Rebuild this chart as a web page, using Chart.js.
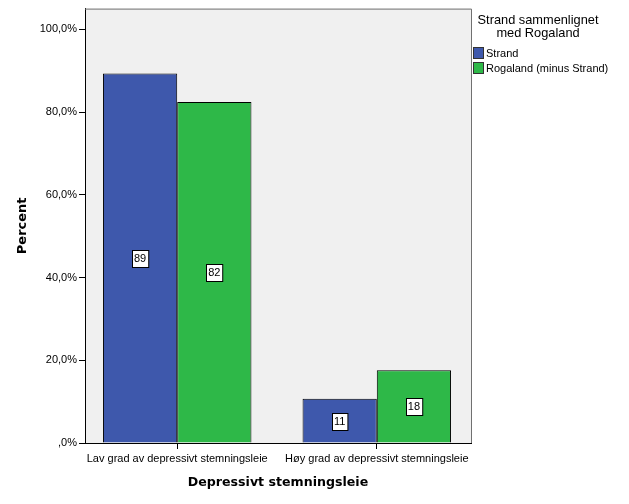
<!DOCTYPE html>
<html>
<head>
<meta charset="utf-8">
<script src="https://cdn.jsdelivr.net/npm/chart.js@4"></script>
<style>
  html, body { margin: 0; padding: 0; background: #fff; }
  #wrap { width: 629px; height: 504px; }
</style>
</head>
<body>
<div id="wrap"><canvas id="chart" width="629" height="504"></canvas></div>
<script>
// kategorier og verdier (prosent)
const categories = ["Lav grad av depressivt stemningsleie", "Høy grad av depressivt stemningsleie"];
const strandValues = [89.3, 10.7];
const rogalandValues = [82.4, 17.6];
const seriesLabels = ["Strand", "Rogaland (minus Strand)"];
const yTicks = [0, 20, 40, 60, 80, 100];
const legendTitle = ["Strand sammenlignet", "med Rogaland"];

const blue = "#3E58AC";
const green = "#2EB848";

// grå bakgrunn i plottet + ramme
const plotBg = {
    id: "plotBg",
    beforeDraw(chart) {
        const { ctx, chartArea: a } = chart;
        ctx.save();
        ctx.fillStyle = "#F0F0F0";
        ctx.fillRect(a.left, a.top, a.right - a.left, a.bottom - a.top);
        ctx.restore();
    },
    afterDraw(chart) {
        const { ctx, chartArea: a } = chart;
        ctx.save();
        ctx.strokeStyle = "#707070";
        ctx.lineWidth = 1;
        ctx.beginPath();
        ctx.moveTo(a.left, a.top + 0.5);
        ctx.lineTo(a.right + 0.5, a.top + 0.5);
        ctx.lineTo(a.right + 0.5, a.bottom);
        ctx.stroke();
        ctx.restore();
    }
};

// verdietiketter midt i stolpene
const barLabels = {
    id: "barLabels",
    afterDatasetsDraw(chart) {
        const ctx = chart.ctx;
        ctx.save();
        ctx.font = "11px 'Liberation Sans', Arial, sans-serif";
        ctx.textAlign = "center";
        ctx.textBaseline = "middle";
        chart.data.datasets.forEach((ds, di) => {
            chart.getDatasetMeta(di).data.forEach((bar, i) => {
                const txt = String(Math.round(ds.data[i].y));
                const cy = Math.round((bar.y + bar.base) / 2);
                const w = ctx.measureText(txt).width + 4;
                const h = 17;
                const x0 = Math.round(bar.x - w / 2) + 0.5;
                const y0 = Math.round(cy - h / 2) + 0.5;
                ctx.fillStyle = "#fff";
                ctx.fillRect(x0, y0, w, h);
                ctx.strokeStyle = "#000";
                ctx.lineWidth = 1;
                ctx.strokeRect(x0, y0, w, h);
                ctx.fillStyle = "#000";
                ctx.fillText(txt, bar.x, cy + 1);
            });
        });
        ctx.restore();
    }
};

// forklaring til høyre
const sideLegend = {
    id: "sideLegend",
    afterDraw(chart) {
        const ctx = chart.ctx;
        ctx.save();
        ctx.fillStyle = "#000";
        ctx.font = "12.8px 'Liberation Sans', Arial, sans-serif";
        ctx.textAlign = "center";
        ctx.textBaseline = "middle";
        legendTitle.forEach((t, i) => ctx.fillText(t, 538, 20 + i * 13));
        ctx.textAlign = "left";
        ctx.font = "11px 'Liberation Sans', Arial, sans-serif";
        chart.data.datasets.forEach((ds, i) => {
            const y = 53 + i * 15;
            ctx.fillStyle = ds.backgroundColor;
            ctx.fillRect(473.5, y - 5.5, 10, 11);
            ctx.strokeStyle = "#333";
            ctx.strokeRect(473.5, y - 5.5, 10, 11);
            ctx.fillStyle = "#000";
            ctx.fillText(ds.label, 486, y + 1);
        });
        ctx.restore();
    }
};

new Chart(document.getElementById("chart"), {
    type: "bar",
    data: {
        datasets: [
            {
                label: seriesLabels[0],
                data: strandValues.map((v, i) => ({ x: i, y: v })),
                backgroundColor: blue,
                borderColor: "#000",
                borderWidth: 1,
                borderSkipped: "bottom"
            },
            {
                label: seriesLabels[1],
                data: rogalandValues.map((v, i) => ({ x: i, y: v })),
                backgroundColor: green,
                borderColor: "#000",
                borderWidth: 1,
                borderSkipped: "bottom"
            }
        ]
    },
    options: {
        responsive: false,
        animation: false,
        events: [],
        categoryPercentage: 0.744,
        barPercentage: 1.0,
        layout: { padding: { top: 6, right: 158, left: 0, bottom: 0 } },
        plugins: {
            legend: { display: false },
            tooltip: { enabled: false }
        },
        scales: {
            x: {
                type: "linear",
                min: -0.462,
                max: 1.472,
                offset: false,
                bounds: "data",
                afterBuildTicks: (s) => { s.ticks = categories.map((c, i) => ({ value: i })); },
                afterFit: (s) => { s.height = 61; },
                ticks: {
                    autoSkip: false,
                    maxRotation: 0,
                    padding: 3,
                    color: "#000",
                    font: { family: "'Liberation Sans', Arial, sans-serif", size: 11 },
                    callback: (v) => categories[v]
                },
                grid: { offset: false, drawOnChartArea: false, drawTicks: true, tickLength: 6, color: "#000" },
                border: { display: true, color: "#000", width: 1 },
                title: {
                    display: true,
                    text: "Depressivt stemningsleie",
                    color: "#000",
                    font: { family: "'DejaVu Sans', Tahoma, sans-serif", size: 12.6, weight: "bold" },
                    padding: { top: 0, bottom: 14 }
                }
            },
            y: {
                min: 0,
                max: 105,
                afterBuildTicks: (s) => { s.ticks = yTicks.map((v) => ({ value: v })); },
                afterFit: (s) => { s.width = 85; },
                ticks: {
                    padding: 2,
                    color: "#000",
                    font: { family: "'Liberation Sans', Arial, sans-serif", size: 11 },
                    callback: (v) => (v === 0 ? ",0%" : v.toFixed(1).replace(".", ",") + "%")
                },
                grid: { drawOnChartArea: false, drawTicks: true, tickLength: 6, color: "#000" },
                border: { display: true, color: "#000", width: 1 },
                title: {
                    display: true,
                    text: "Percent",
                    color: "#000",
                    font: { family: "'DejaVu Sans', Tahoma, sans-serif", size: 13, weight: "bold" },
                    padding: { top: 15, bottom: 0 }
                }
            }
        }
    },
    plugins: [plotBg, barLabels, sideLegend]
});
</script>
</body>
</html>
